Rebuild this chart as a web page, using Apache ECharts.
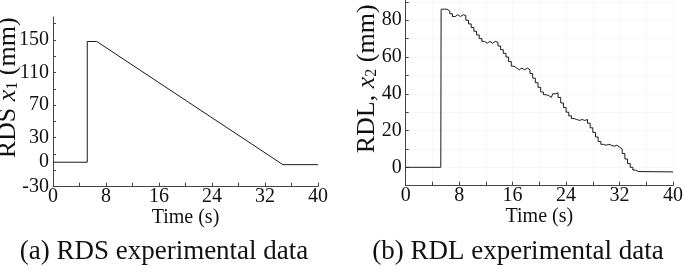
<!DOCTYPE html>
<html>
<head>
<meta charset="utf-8">
<script src="https://cdn.jsdelivr.net/npm/echarts@6/dist/echarts.min.js"></script>
<style>
html,body{margin:0;padding:0;background:#fff;}
#c{width:685px;height:272px;}
</style>
</head>
<body>
<div id="c"></div>
<script>
// ---- Data ----
// (a) RDS x1 (mm) vs time (s)
var timeA = [0, 5.17, 5.17, 6.6, 34.7, 40];
var rdsX1 = [0, 0, 148, 148, -3, -3];

// (b) RDL x2 (mm) vs time (s)
var timeB = [0, 5.25, 5.3, 5.8, 6.2, 6.6, 7.0, 7.4, 7.8, 8.2, 8.6, 9.0, 9.4, 9.8, 10.2, 10.6, 11.0, 11.4, 11.8, 12.2, 12.6, 13.0, 13.4, 13.8, 14.2, 14.6, 15.0, 15.4, 15.8, 16.2, 16.6, 17.0, 17.4, 17.8, 18.2, 18.6, 19.0, 19.4, 19.8, 20.2, 20.6, 21.0, 21.4, 21.8, 22.0, 22.4, 22.8, 23.2, 23.6, 24.0, 24.4, 24.8, 25.2, 25.6, 26.0, 26.4, 26.8, 27.2, 27.6, 28.0, 28.4, 28.8, 29.2, 29.6, 30.0, 30.4, 30.8, 31.2, 31.6, 32.0, 32.4, 32.8, 33.2, 33.6, 34.0, 34.4, 34.8, 40];
var rdlX2 = [0, 0, 86, 86, 85, 83.5, 82, 83, 82, 83, 82.5, 80, 78, 76, 74, 72, 70, 68.5, 67.5, 68.5, 67.5, 68.5, 68, 66, 64, 62, 60, 57.5, 55, 54, 53, 54, 53, 54, 53, 51, 48.5, 46, 43.5, 41, 39.5, 39, 38, 37.5, 40, 40.5, 38, 35, 32.5, 30, 28, 26.5, 26, 25.5, 26, 25.5, 26, 24, 21.5, 19, 16.5, 14, 12.5, 12, 12.5, 12, 11.5, 12, 11, 10, 7.5, 4.5, 2, 0, -1.5, -2.3, -2.5, -2.5];

// ---- Tick / label values ----
var xLabels = [0, 8, 16, 24, 32, 40];
var yTicksA = [-30, -10, 10, 30, 50, 70, 90, 110, 130, 150, 170];
var yLabelsA = [-30, 0, 30, 70, 110, 150];
var yTicksB = [-10, 0, 10, 20, 30, 40, 50, 60, 70, 80, 90];
var yLabelsB = [-10, 0, 20, 40, 60, 80];

var captionA = '(a) RDS experimental data';
var captionB = '(b) RDL experimental data';

function zip(a, b) { return a.map(function (v, i) { return [v, b[i]]; }); }

var FONT = '"Liberation Serif", "Times New Roman", serif';
var AXIS_COLOR = '#444';
var TEXT_COLOR = '#111';

function xAxisCfg(gridIndex, gridColor) {
  return {
    type: 'value', gridIndex: gridIndex, min: 0, max: 40, interval: 4,
    name: 'Time (s)', nameLocation: 'middle', nameGap: 21, nameMoveOverlap: false,
    nameTextStyle: { fontFamily: FONT, fontSize: 20, color: TEXT_COLOR },
    axisLine: { show: true, onZero: false, lineStyle: { color: AXIS_COLOR, width: 1 } },
    axisTick: { show: true, inside: true, length: 4, lineStyle: { color: AXIS_COLOR } },
    axisLabel: { customValues: xLabels, margin: 0, fontFamily: FONT, fontSize: 20, color: TEXT_COLOR },
    splitLine: { show: !!gridColor, lineStyle: { color: gridColor || '#fff', width: 1 } }
  };
}

function yAxisCfg(gridIndex, min, max, ticks, labels, nameRich, gap, gridColor) {
  return {
    type: 'value', gridIndex: gridIndex, min: min, max: max,
    name: nameRich, nameLocation: 'middle', nameGap: gap, nameRotate: 90, nameMoveOverlap: false,
    nameTextStyle: {
      fontFamily: FONT, fontSize: 26, color: TEXT_COLOR, padding: [0, 0, 0, 28],
      rich: {
        n: { fontFamily: FONT, fontSize: 26, color: TEXT_COLOR },
        i: { fontFamily: FONT, fontSize: 26, fontStyle: 'italic', color: TEXT_COLOR },
        s: { fontFamily: FONT, fontSize: 16, color: TEXT_COLOR, verticalAlign: 'bottom', padding: [9, 0, 0, 0] }
      }
    },
    axisLine: { show: true, onZero: false, lineStyle: { color: AXIS_COLOR, width: 1 } },
    axisTick: { show: true, inside: true, length: 3, customValues: ticks, lineStyle: { color: AXIS_COLOR } },
    axisLabel: { customValues: labels, margin: 4, fontFamily: FONT, fontSize: 20, color: TEXT_COLOR },
    splitLine: { show: !!gridColor, lineStyle: { color: gridColor || '#fff', width: 1 } }
  };
}

var chart = echarts.init(document.getElementById('c'), null, { renderer: 'canvas' });
chart.setOption({
  animation: false,
  backgroundColor: '#ffffff',
  grid: [
    { left: 53, top: 17, width: 265, height: 169.7, outerBoundsMode: 'none', containLabel: false },
    { left: 405.7, top: 0, width: 267.3, height: 185.7, outerBoundsMode: 'none', containLabel: false }
  ],
  xAxis: [xAxisCfg(0), xAxisCfg(1, '#f7f7f7')],
  yAxis: [
    yAxisCfg(0, -30, 178, yTicksA, yLabelsA, '{n|RDS }{i|x}{s|1}{n| (mm)}', 32),
    yAxisCfg(1, -10, 91, yTicksB, yLabelsB, '{n|RDL, }{i|x}{s|2}{n| (mm)}', 26, '#f7f7f7')
  ],
  series: [
    { type: 'line', xAxisIndex: 0, yAxisIndex: 0, data: zip(timeA, rdsX1), showSymbol: false,
      lineStyle: { color: '#1a1a1a', width: 1 } },
    { type: 'line', xAxisIndex: 1, yAxisIndex: 1, data: zip(timeB, rdlX2), showSymbol: false, step: 'end',
      lineStyle: { color: '#1a1a1a', width: 1 } }
  ],
  graphic: [
    { type: 'text', x: 164, y: 252, style: { text: captionA, font: '27px ' + FONT, fill: TEXT_COLOR, textAlign: 'center', textVerticalAlign: 'middle' } },
    { type: 'text', x: 518, y: 252, style: { text: captionB, font: '27px ' + FONT, fill: TEXT_COLOR, textAlign: 'center', textVerticalAlign: 'middle' } }
  ]
});
</script>
</body>
</html>
